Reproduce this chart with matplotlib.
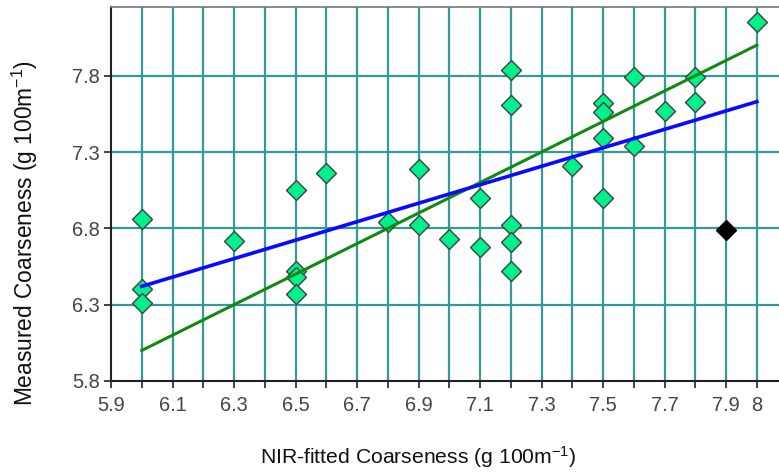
import numpy as np
import matplotlib
matplotlib.use("Agg")
import matplotlib.pyplot as plt
from matplotlib.ticker import FixedLocator, FixedFormatter

plt.rcParams['font.family'] = ['Liberation Sans', 'DejaVu Sans']
plt.rcParams['mathtext.fontset'] = 'custom'
plt.rcParams['mathtext.rm'] = 'Liberation Sans'
plt.rcParams['mathtext.it'] = 'Liberation Sans:italic'

# NIR-fitted vs measured coarseness
nir_fit = [6.0, 6.0, 6.0, 6.3, 6.5, 6.5, 6.5, 6.5, 6.6, 6.8, 6.9, 6.9, 7.0,
           7.1, 7.1, 7.2, 7.2, 7.2, 7.2, 7.2, 7.4, 7.5, 7.5, 7.5, 7.5,
           7.6, 7.6, 7.7, 7.8, 7.8, 8.0]
measured = [6.86, 6.40, 6.31, 6.72, 7.05, 6.52, 6.48, 6.37, 7.16, 6.84, 7.19, 6.82, 6.73,
            7.00, 6.68, 7.84, 7.61, 6.82, 6.71, 6.52, 7.21, 7.62, 7.56, 7.39, 7.00,
            7.79, 7.34, 7.57, 7.79, 7.63, 8.15]

# excluded sample
outlier_x = [7.9]
outlier_y = [6.79]

# regression line and 1:1 line
reg_x = [6.0, 8.0]
reg_y = [6.42, 7.63]
one_x = [6.0, 8.0]
one_y = [6.0, 8.0]

x_ticks = np.round(np.arange(5.9, 8.01, 0.1), 1)
x_labels = ['5.9', '', '6.1', '', '6.3', '', '6.5', '', '6.7', '', '6.9', '',
            '7.1', '', '7.3', '', '7.5', '', '7.7', '', '7.9', '8']
y_ticks = [5.8, 6.3, 6.8, 7.3, 7.8]
y_labels = ['5.8', '6.3', '6.8', '7.3', '7.8']

fig = plt.figure(figsize=(7.79, 4.75), dpi=100)
ax = fig.add_axes([111 / 779, 1 - 381 / 475, 668 / 779, 374 / 475])
ax.set_xlim(5.9, 8.072)
ax.set_ylim(5.8, 8.25)

grid_col = '#339999'
for xv in x_ticks[1:]:
    ax.axvline(xv, color=grid_col, lw=1.6, zorder=1)
for yv in y_ticks[1:]:
    ax.axhline(yv, color=grid_col, lw=1.6, zorder=1)

ax.plot(nir_fit, measured, linestyle='none', marker='D', markersize=10.5,
        markerfacecolor='#00f08c', markeredgecolor='#404040', markeredgewidth=1.0, zorder=3)
ax.plot(outlier_x, outlier_y, linestyle='none', marker='D', markersize=10.5,
        markerfacecolor='black', markeredgecolor='black', zorder=3)
ax.plot(one_x, one_y, color='#128a12', lw=2.2, zorder=4)
ax.plot(reg_x, reg_y, color='#0a0aff', lw=2.6, zorder=4)

ax.xaxis.set_major_locator(FixedLocator(x_ticks))
ax.xaxis.set_major_formatter(FixedFormatter(x_labels))
ax.yaxis.set_major_locator(FixedLocator(y_ticks))
ax.yaxis.set_major_formatter(FixedFormatter(y_labels))
ax.tick_params(axis='both', direction='out', length=5, width=1.2, color='#222222',
               labelsize=14.4, labelcolor='#444444', pad=3)
ax.tick_params(axis='x', pad=6)

ax.spines['right'].set_visible(False)
ax.spines['left'].set_color('#222222')
ax.spines['bottom'].set_color('#222222')
ax.spines['left'].set_linewidth(1.5)
ax.spines['bottom'].set_linewidth(1.5)
ax.spines['top'].set_color('#777777')
ax.spines['top'].set_linewidth(1.2)

fig.text(418 / 779, 1 - 457 / 475, r'NIR-fitted Coarseness (g 100m$^{\mathregular{-1}}$)',
         ha='center', va='center', fontsize=15.2, color='#111111')
fig.text(25 / 779, 1 - 233 / 475, r'Measured Coarseness (g 100m$^{\mathregular{-1}}$)',
         ha='center', va='center', rotation=90, fontsize=16.4, color='#111111')

fig.savefig('out.png', dpi=100)
